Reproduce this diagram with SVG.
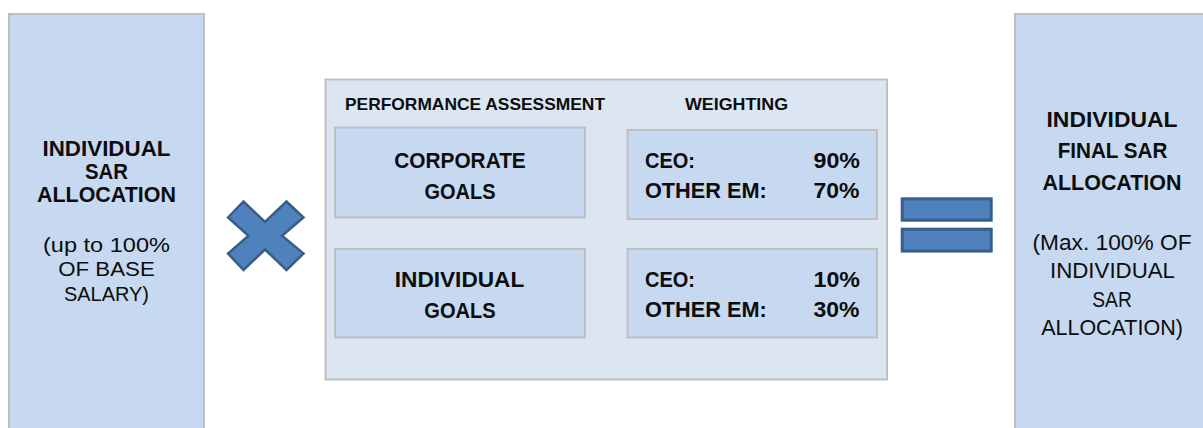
<svg xmlns="http://www.w3.org/2000/svg" width="1203" height="428" viewBox="0 0 1203 428">
<style>
.box{fill:#C6D9F1;stroke:#BFBFBF;stroke-width:2}
.panel{fill:#DCE6F2;stroke:#BFBFBF;stroke-width:2}
.op{fill:#4F81BD;stroke:#385D8A;stroke-linejoin:miter}
text{font-family:"Liberation Sans",Arial,sans-serif;fill:#0D0D0D}
.b{font-weight:bold}
.c{text-anchor:middle}
.e{text-anchor:end}
</style>
<rect width="1203" height="428" fill="#FFFFFF"/>
<g id="connectors"/>
<g id="individual-sar-allocation">
<rect class="box" x="9" y="14" width="195" height="430"/>
<text class="b c" font-size="21.5" x="106.5" y="156" textLength="128" lengthAdjust="spacingAndGlyphs">INDIVIDUAL</text>
<text class="b c" font-size="21.5" x="106.5" y="179.3" textLength="43" lengthAdjust="spacingAndGlyphs">SAR</text>
<text class="b c" font-size="21.5" x="106.5" y="202.3" textLength="139" lengthAdjust="spacingAndGlyphs">ALLOCATION</text>
<text class="c" font-size="20.5" x="106.5" y="251.7" textLength="127" lengthAdjust="spacingAndGlyphs">(up to 100%</text>
<text class="c" font-size="20.5" x="106.5" y="276.3" textLength="96.5" lengthAdjust="spacingAndGlyphs">OF BASE</text>
<text class="c" font-size="20.5" x="106.5" y="301" textLength="85" lengthAdjust="spacingAndGlyphs">SALARY)</text>
</g>
<g id="operator-multiply">
<polygon class="op" stroke-width="2.5" points="228,217.5 243.5,201.5 265,222 286.5,201.5 303.5,217.5 282,235.7 303.5,253.5 286.5,270 265,249.5 243.5,270 228,253.5 248.5,235.7"/>
</g>
<g id="performance-panel">
<rect class="panel" x="325.5" y="79.5" width="561.5" height="300"/>
<text class="b" font-size="16.5" x="345" y="110" textLength="260" lengthAdjust="spacingAndGlyphs">PERFORMANCE ASSESSMENT</text>
<text class="b" font-size="16.5" x="685" y="109.5" textLength="103" lengthAdjust="spacingAndGlyphs">WEIGHTING</text>
</g>
<g id="corporate-goals">
<rect class="box" x="335" y="127.5" width="250" height="90"/>
<text class="b c" font-size="22.5" x="460" y="168" textLength="131.5" lengthAdjust="spacingAndGlyphs">CORPORATE</text>
<text class="b c" font-size="22.5" x="460" y="198.5" textLength="71" lengthAdjust="spacingAndGlyphs">GOALS</text>
</g>
<g id="individual-goals">
<rect class="box" x="335" y="249" width="250" height="88.5"/>
<text class="b c" font-size="22.5" x="459.5" y="287.3" textLength="129.5" lengthAdjust="spacingAndGlyphs">INDIVIDUAL</text>
<text class="b c" font-size="22.5" x="460" y="318.3" textLength="71.5" lengthAdjust="spacingAndGlyphs">GOALS</text>
</g>
<g id="weighting-corporate">
<rect class="box" x="627.5" y="130" width="249.5" height="89"/>
<text class="b" font-size="21.5" x="645" y="167.7" textLength="50" lengthAdjust="spacingAndGlyphs">CEO:</text>
<text class="b e" font-size="21.5" x="860" y="167.7" textLength="46.5" lengthAdjust="spacingAndGlyphs">90%</text>
<text class="b" font-size="21.5" x="645" y="197.7" textLength="121.7" lengthAdjust="spacingAndGlyphs">OTHER EM:</text>
<text class="b e" font-size="21.5" x="859.5" y="197.7" textLength="46" lengthAdjust="spacingAndGlyphs">70%</text>
</g>
<g id="weighting-individual">
<rect class="box" x="627.5" y="249" width="249.5" height="88.5"/>
<text class="b" font-size="21.5" x="645" y="286.7" textLength="50" lengthAdjust="spacingAndGlyphs">CEO:</text>
<text class="b e" font-size="21.5" x="860" y="286.7" textLength="46.5" lengthAdjust="spacingAndGlyphs">10%</text>
<text class="b" font-size="21.5" x="645" y="317.3" textLength="121.7" lengthAdjust="spacingAndGlyphs">OTHER EM:</text>
<text class="b e" font-size="21.5" x="859.5" y="317.3" textLength="46" lengthAdjust="spacingAndGlyphs">30%</text>
</g>
<g id="operator-equals">
<rect class="op" stroke-width="3" x="902.2" y="198.8" width="89" height="21.4"/>
<rect class="op" stroke-width="3" x="902.2" y="229.2" width="89" height="21.9"/>
</g>
<g id="individual-final-sar-allocation">
<rect class="box" x="1015" y="14" width="200" height="430"/>
<text class="b c" font-size="22.5" x="1112" y="126.7" textLength="131" lengthAdjust="spacingAndGlyphs">INDIVIDUAL</text>
<text class="b c" font-size="22.5" x="1112.5" y="158.3" textLength="109.7" lengthAdjust="spacingAndGlyphs">FINAL SAR</text>
<text class="b c" font-size="22.5" x="1112" y="190" textLength="139" lengthAdjust="spacingAndGlyphs">ALLOCATION</text>
<text class="c" font-size="22.5" x="1112" y="250" textLength="159" lengthAdjust="spacingAndGlyphs">(Max. 100% OF</text>
<text class="c" font-size="22.5" x="1112.5" y="278.3" textLength="125" lengthAdjust="spacingAndGlyphs">INDIVIDUAL</text>
<text class="c" font-size="22.5" x="1112" y="306.7" textLength="39.5" lengthAdjust="spacingAndGlyphs">SAR</text>
<text class="c" font-size="22.5" x="1112" y="335" textLength="141.7" lengthAdjust="spacingAndGlyphs">ALLOCATION)</text>
</g>
</svg>
